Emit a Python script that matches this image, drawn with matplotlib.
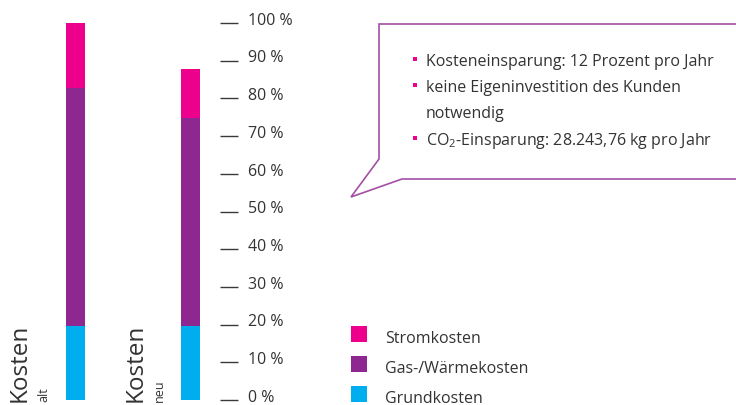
import matplotlib
matplotlib.use("Agg")
import matplotlib.pyplot as plt
from matplotlib.patches import Rectangle, Polygon

plt.rcParams['font.family'] = ['Open Sans', 'DejaVu Sans']
plt.rcParams['mathtext.fontset'] = 'custom'
plt.rcParams['mathtext.rm'] = 'Open Sans'

# ---- data ----
categories = ["alt", "neu"]
grundkosten = [19.5, 19.6]
gaskosten = [63.3, 55.1]
stromkosten = [17.2, 13.1]
series_names = ["Stromkosten", "Gas-/Wärmekosten", "Grundkosten"]
tick_values = [0, 10, 20, 30, 40, 50, 60, 70, 80, 90, 100]
tick_labels = [f"{v} %" for v in tick_values]
bullets = ["Kosteneinsparung: 12 Prozent pro Jahr",
           "keine Eigeninvestition des Kunden",
           "notwendig",
           "CO$_\\mathregular{2}$-Einsparung: 28.243,76 kg pro Jahr"]
bullet_marks = [True, True, False, True]

# ---- styles ----
C_STROM = "#EC008C"
C_GAS = "#8E278F"
C_GRUND = "#00AEEF"
C_TEXT = "#333333"
C_CALL = "#A34FA6"

W, H = 736, 406
fig = plt.figure(figsize=(W / 100, H / 100), dpi=100)

# main axes: y 0..100 maps to pixel rows 401..24
y0, y1 = 401, 24
ax = fig.add_axes([0, (H - y0) / H, 1, (y0 - y1) / H])
ax.set_xlim(0, W)
ax.set_ylim(0, 100)
ax.axis("off")

bar_x = [75.5, 190.5]
bw = 19
ax.bar(bar_x, grundkosten, width=bw, color=C_GRUND, linewidth=0)
ax.bar(bar_x, gaskosten, width=bw, bottom=grundkosten, color=C_GAS, linewidth=0)
bottom2 = [g + h for g, h in zip(grundkosten, gaskosten)]
ax.bar(bar_x, stromkosten, width=bw, bottom=bottom2, color=C_STROM, linewidth=0)

# tick marks + labels
for v, lab in zip(tick_values, tick_labels):
    ax.plot([220, 238], [v, v], color="#3a3a3a", lw=1.0, solid_capstyle="butt",
            clip_on=False)
    ax.text(248, v - 0.2, lab, fontsize=11.5, color=C_TEXT, va="baseline", ha="left")

# overlay axes in pixel coordinates
ov = fig.add_axes([0, 0, 1, 1])
ov.set_xlim(0, W)
ov.set_ylim(H, 0)
ov.axis("off")
ov.patch.set_alpha(0)

# category labels (rotated)
label_x = [8, 124]
for lx, cat in zip(label_x, categories):
    ov.text(lx, 402, "Kosten", rotation=90, fontsize=17.5, color=C_TEXT,
            ha="left", va="top", rotation_mode="anchor")
    ov.text(lx + 29, 402, cat, rotation=90, fontsize=9, color=C_TEXT,
            ha="left", va="top", rotation_mode="anchor")

# callout
pts = [(W + 5, 25), (379, 25), (379, 160), (351, 198), (402, 180), (W + 5, 180)]
ov.add_patch(Polygon(pts, closed=False, fill=False, edgecolor=C_CALL, lw=1.2))

by = [66, 92, 118, 145]
for y, txt, mark in zip(by, bullets, bullet_marks):
    if mark:
        ov.add_patch(Rectangle((412.5, y - 8), 4, 4, color=C_STROM, lw=0))
    ov.text(426, y, txt, fontsize=11.5, color=C_TEXT, va="baseline", ha="left")

# legend
leg_colors = [C_STROM, C_GAS, C_GRUND]
leg_y = [343, 373, 403]
for y, c, name in zip(leg_y, leg_colors, series_names):
    ov.add_patch(Rectangle((351, y - 16), 16, 16, color=c, lw=0))
    ov.text(385, y, name, fontsize=11.5, color=C_TEXT, va="baseline", ha="left")

fig.savefig("out.png", dpi=100)
